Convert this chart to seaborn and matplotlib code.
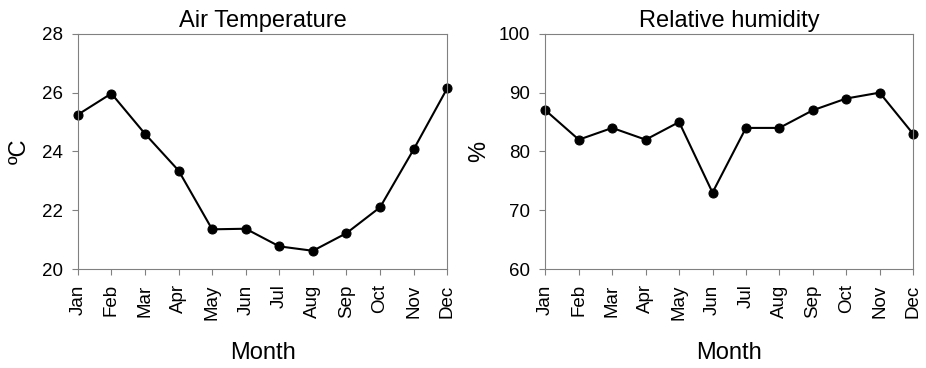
import pandas as pd
import matplotlib
matplotlib.use("Agg")
import matplotlib.pyplot as plt
import seaborn as sns

# ==================================================
# DATA
# ==================================================
months = ["Jan", "Feb", "Mar", "Apr", "May", "Jun",
          "Jul", "Aug", "Sep", "Oct", "Nov", "Dec"]
air_temp = [25.25, 25.97, 24.6, 23.35, 21.35, 21.37,
            20.77, 20.62, 21.22, 22.1, 24.07, 26.15]
humidity = [87, 82, 84, 82, 85, 73, 84, 84, 87, 89, 90, 83]

df = pd.DataFrame({"Month": months, "temp": air_temp, "rh": humidity})
df["idx"] = range(len(months))

# ==================================================
# STYLING
# ==================================================
sns.set_style("white")
plt.rcParams["font.family"] = ["Liberation Sans", "DejaVu Sans"]
plt.rcParams["text.color"] = "black"
plt.rcParams["axes.labelcolor"] = "black"
plt.rcParams["xtick.labelcolor"] = "black"
plt.rcParams["ytick.labelcolor"] = "black"

fig = plt.figure(figsize=(9.26, 3.68), dpi=100)
ax1 = fig.add_axes([0.084, 0.269, 0.399, 0.639])
ax2 = fig.add_axes([0.589, 0.269, 0.397, 0.639])

panels = [
    (ax1, "temp", "Air Temperature", "ºC", (20, 28), [20, 22, 24, 26, 28], 8),
    (ax2, "rh", "Relative humidity", "%", (60, 100), [60, 70, 80, 90, 100], 6),
]

for ax, col, title, ylabel, ylim, yticks, ypad in panels:
    sns.lineplot(
        data=df, x="idx", y=col, ax=ax,
        color="black", linewidth=1.5,
        marker="o", markersize=6.5, markeredgecolor="black",
        clip_on=False
    )
    ax.set_xlim(0, 11)
    ax.set_ylim(*ylim)
    ax.set_yticks(yticks)
    ax.set_xticks(df["idx"])
    ax.set_xticklabels(months, rotation=90)
    ax.set_title(title, fontsize=17, pad=5, color="black")
    ax.set_xlabel("Month", fontsize=17, labelpad=16)
    ax.set_ylabel(ylabel, fontsize=17, labelpad=ypad)
    ax.tick_params(axis="both", labelsize=13.5, length=4, width=0.8,
                   color="#808080", direction="out", pad=7)
    ax.tick_params(axis="x", bottom=True)
    ax.tick_params(axis="y", left=True)
    for sp in ax.spines.values():
        sp.set_color("#808080")
        sp.set_linewidth(0.8)

fig.savefig("out.png", dpi=100)
